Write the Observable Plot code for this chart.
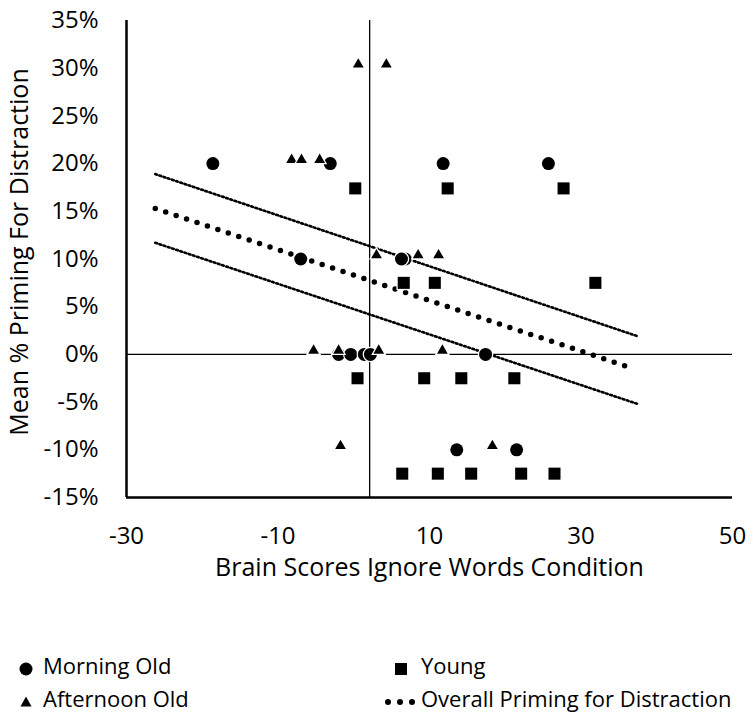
<!DOCTYPE html>
<html><head><meta charset="utf-8">
<script src="https://cdn.jsdelivr.net/npm/d3@7"></script>
<script src="https://cdn.jsdelivr.net/npm/@observablehq/plot@0.6"></script>
<style>
body{margin:0;background:#fff;font-family:"Open Sans",sans-serif;}
#chart svg{display:block}
#legend{position:relative;width:754px;height:96px;font-size:22px;color:#000}
.lt{position:absolute;height:30px;line-height:30px;white-space:nowrap}
.li{position:absolute}
</style></head><body>
<div id="chart"></div>
<div id="legend"></div>
<script>
// ---- data ----
const xTicks = [-30, -10, 10, 30, 50];
const yTicks = [-15, -10, -5, 0, 5, 10, 15, 20, 25, 30, 35];

const morningX = [-18.6, -3.1, 11.8, 25.7, -7.0, 6.8, 6.3, 17.4, 13.6, 21.5, -2.0, -0.4, 1.4, 2.2];
const morningY = [20, 20, 20, 20, 10, 10, 10, 0, -10, -10, 0, 0, 0, 0];

const afternoonX = [0.6, 4.3, -8.2, -6.9, -4.5, 3.0, 8.5, 11.2, -5.3, -2.0, 3.3, 11.7, -1.75, 18.3];
const afternoonY = [30.4, 30.4, 20.4, 20.4, 20.4, 10.4, 10.4, 10.4, 0.4, 0.4, 0.4, 0.4, -9.6, -9.6];

const youngX = [0.2, 12.4, 27.7, 6.6, 10.7, 31.9, 0.5, 9.3, 14.2, 21.2, 6.4, 11.1, 15.5, 22.1, 26.5];
const youngY = [17.4, 17.4, 17.4, 7.5, 7.5, 7.5, -2.5, -2.5, -2.5, -2.5, -12.5, -12.5, -12.5, -12.5, -12.5];

const trendX = [-26.2, 36.5];
const trendY = [15.3, -1.4];
const upperX = [-26.2, 37.5];
const upperY = [18.9, 1.9];
const lowerX = [-26.2, 37.5];
const lowerY = [11.7, -5.2];

const frameX = [-30];
const frameY = [-15];
const zeroY = [0];
const crossX = [2.1];

const seriesNames = ["Morning Old", "Afternoon Old", "Young", "Overall Priming for Distraction"];
const xTitle = "Brain Scores Ignore Words Condition";
const yTitle = "Mean % Priming For Distraction";

// ---- build tables ----
const zip = (xs, ys) => xs.map((x, i) => ({x, y: ys[i]}));
const morning = zip(morningX, morningY);
const afternoon = zip(afternoonX, afternoonY);
const young = zip(youngX, youngY);
const trend = zip(trendX, trendY);
const upper = zip(upperX, upperY);
const lower = zip(lowerX, lowerY);

const halo = {stroke: "white", strokeWidth: 2.5, paintOrder: "stroke", fill: "black"};

const chart = Plot.plot({
  width: 754, height: 625,
  marginTop: 20, marginBottom: 128, marginLeft: 126, marginRight: 22,
  style: {fontFamily: "Open Sans", fontSize: "24px", color: "#000", background: "#fff"},
  x: {domain: [-30, 50], ticks: xTicks, tickFormat: d => String(d), tickSize: 0, tickPadding: 29, label: null},
  y: {domain: [-15, 35], ticks: yTicks, tickFormat: d => d + "%", tickSize: 0, tickPadding: 28, label: null},
  marks: [
    Plot.ruleY(zeroY, {stroke: "black", strokeWidth: 1.3}),
    Plot.ruleX(crossX, {stroke: "black", strokeWidth: 1.3}),
    Plot.ruleX(frameX, {stroke: "black", strokeWidth: 2.5}),
    Plot.ruleY(frameY, {stroke: "black", strokeWidth: 2.5}),
    Plot.line(upper, {x: "x", y: "y", stroke: "black", strokeWidth: 2.6, strokeDasharray: "1.8 2.6"}),
    Plot.line(lower, {x: "x", y: "y", stroke: "black", strokeWidth: 2.6, strokeDasharray: "1.8 2.6"}),
    Plot.line(trend, {x: "x", y: "y", stroke: "black", strokeWidth: 5.5, strokeDasharray: "0 11", strokeLinecap: "round"}),
    Plot.dot(young, {x: "x", y: "y", symbol: "square", r: 6.8, ...halo}),
    Plot.dot(morning, {x: "x", y: "y", symbol: "circle", r: 6.5, ...halo}),
    Plot.dot(afternoon, {x: "x", y: "y", symbol: "triangle", r: 4, ...halo}),
    Plot.text([xTitle], {frameAnchor: "bottom", textAnchor: "middle", dy: 78, fill: "black", fontSize: 25}),
    Plot.text([yTitle], {frameAnchor: "left", textAnchor: "middle", rotate: -90, dx: -107, dy: -7, fill: "black", fontSize: 25})
  ]
});
document.getElementById("chart").appendChild(chart);

// ---- legend ----
const legend = document.getElementById("legend");
const icons = [
  {left: 16, top: 30, svg: '<svg width="20" height="20"><circle cx="10" cy="10" r="6.5" fill="black"/></svg>'},
  {left: 16, top: 63, svg: '<svg width="20" height="20"><path d="M10,4.5L15.5,14.5L4.5,14.5Z" fill="black"/></svg>'},
  {left: 391, top: 30, svg: '<svg width="20" height="20"><rect x="4" y="4" width="12" height="12" fill="black"/></svg>'},
  {left: 383, top: 63, svg: '<svg width="36" height="20"><circle cx="5" cy="10" r="3" fill="black"/><circle cx="17" cy="10" r="3" fill="black"/><circle cx="29" cy="10" r="3" fill="black"/></svg>'}
];
const texts = [
  {left: 43, top: 25}, {left: 43, top: 58}, {left: 421, top: 25}, {left: 421, top: 58}
];
icons.forEach((ic, i) => {
  const d = document.createElement("div");
  d.className = "li"; d.style.left = ic.left + "px"; d.style.top = ic.top + "px";
  d.innerHTML = ic.svg; legend.appendChild(d);
  const t = document.createElement("div");
  t.className = "lt"; t.style.left = texts[i].left + "px"; t.style.top = texts[i].top + "px";
  t.textContent = seriesNames[i]; legend.appendChild(t);
});
</script>
</body></html>
